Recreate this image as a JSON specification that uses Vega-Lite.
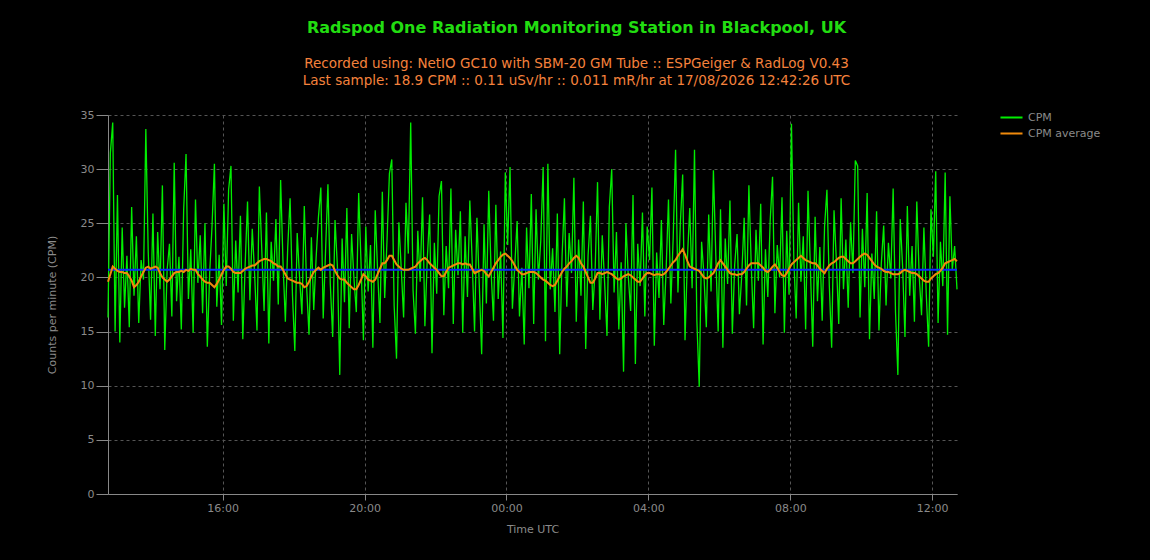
{
"$schema":"https://vega.github.io/schema/vega-lite/v6.json",
"width":849,"height":379,
"autosize":{"type":"none"},
"padding":{"left":108,"top":115,"right":193,"bottom":66},
"background":"#000000",
"config":{
 "view":{"stroke":null},
 "font":"DejaVu Sans",
 "axis":{"domainColor":"#888888","tickColor":"#888888","labelColor":"#8a8a8a","titleColor":"#8a8a8a","labelFont":"DejaVu Sans","titleFont":"DejaVu Sans","labelFontSize":11,"titleFontSize":11,"titleFontWeight":"normal","grid":true,"gridColor":"#555555","gridDash":[3,3],"gridWidth":1,"domainWidth":1,"tickWidth":1},
 "axisX":{"tickSize":6,"labelPadding":2,"titlePadding":10},
 "axisY":{"tickSize":12,"labelPadding":2,"titlePadding":23},
 "legend":{"orient":"none","legendX":898,"legendY":-3,"symbolType":"M-3,0H3","symbolSize":54,"symbolStrokeWidth":2,"labelColor":"#8a8a8a","labelFont":"DejaVu Sans","labelFontSize":11,"labelOffset":11,"rowPadding":4,"padding":0}
},
"title":{"text":"Radspod One Radiation Monitoring Station in Blackpool, UK","subtitle":["Recorded using: NetIO GC10 with SBM-20 GM Tube :: ESPGeiger & RadLog V0.43","Last sample: 18.9 CPM :: 0.11 uSv/hr :: 0.011 mR/hr at 17/08/2026 12:42:26 UTC"],"anchor":"middle","dx":44,"offset":22,"font":"DejaVu Sans","fontSize":16,"fontWeight":"bold","color":"#22dd11","subtitleFont":"DejaVu Sans","subtitleFontSize":13.5,"subtitleColor":"#f5823c","subtitleLineHeight":17,"subtitlePadding":21},
"data":{"format":{"parse":{"t":"utc:'%d %H:%M'"}},"values":[
{"t":"16 12:46","c":16.3,"a":19.6},{"t":"16 12:50","c":31.5,"a":20.3},{"t":"16 12:54","c":34.3,"a":21.0},{"t":"16 12:58","c":15.0,"a":20.8},{"t":"16 13:02","c":27.6,"a":20.6},{"t":"16 13:06","c":14.0,"a":20.5},{"t":"16 13:10","c":24.6,"a":20.5},{"t":"16 13:14","c":17.2,"a":20.4},{"t":"16 13:18","c":22.0,"a":20.4},{"t":"16 13:22","c":15.4,"a":20.1},{"t":"16 13:26","c":26.5,"a":19.7},{"t":"16 13:30","c":18.3,"a":19.1},{"t":"16 13:34","c":23.8,"a":19.3},{"t":"16 13:38","c":15.8,"a":19.6},{"t":"16 13:42","c":21.6,"a":20.1},
{"t":"16 13:46","c":19.8,"a":20.5},{"t":"16 13:50","c":33.7,"a":20.9},{"t":"16 13:54","c":22.4,"a":21.0},{"t":"16 13:58","c":16.1,"a":20.8},{"t":"16 14:02","c":25.9,"a":20.9},{"t":"16 14:06","c":14.6,"a":21.0},{"t":"16 14:10","c":24.2,"a":20.9},{"t":"16 14:14","c":18.9,"a":20.4},{"t":"16 14:18","c":28.5,"a":20.0},{"t":"16 14:22","c":13.3,"a":19.8},{"t":"16 14:26","c":20.7,"a":19.6},{"t":"16 14:30","c":23.1,"a":19.8},{"t":"16 14:34","c":16.4,"a":20.1},{"t":"16 14:38","c":30.6,"a":20.4},{"t":"16 14:42","c":17.8,"a":20.5},
{"t":"16 14:46","c":21.9,"a":20.5},{"t":"16 14:50","c":15.2,"a":20.6},{"t":"16 14:54","c":26.3,"a":20.5},{"t":"16 14:58","c":31.4,"a":20.7},{"t":"16 15:02","c":18.0,"a":20.6},{"t":"16 15:06","c":22.6,"a":20.8},{"t":"16 15:10","c":14.9,"a":20.7},{"t":"16 15:14","c":27.2,"a":20.7},{"t":"16 15:18","c":19.5,"a":20.3},{"t":"16 15:22","c":23.9,"a":20.1},{"t":"16 15:26","c":16.7,"a":19.8},{"t":"16 15:30","c":25.0,"a":19.6},{"t":"16 15:34","c":13.6,"a":19.5},{"t":"16 15:38","c":20.4,"a":19.5},{"t":"16 15:42","c":24.8,"a":19.3},
{"t":"16 15:46","c":30.5,"a":19.1},{"t":"16 15:50","c":17.3,"a":19.4},{"t":"16 15:54","c":22.1,"a":19.8},{"t":"16 15:58","c":15.6,"a":20.3},{"t":"16 16:02","c":26.8,"a":20.7},{"t":"16 16:06","c":19.2,"a":21.0},{"t":"16 16:10","c":28.1,"a":21.0},{"t":"16 16:14","c":30.3,"a":20.8},{"t":"16 16:18","c":16.0,"a":20.5},{"t":"16 16:22","c":23.4,"a":20.4},{"t":"16 16:26","c":18.6,"a":20.4},{"t":"16 16:30","c":25.7,"a":20.4},{"t":"16 16:34","c":14.3,"a":20.6},{"t":"16 16:38","c":21.2,"a":20.8},{"t":"16 16:42","c":27.0,"a":20.9},
{"t":"16 16:46","c":17.9,"a":21.0},{"t":"16 16:50","c":24.5,"a":21.1},{"t":"16 16:54","c":20.3,"a":21.1},{"t":"16 16:58","c":15.1,"a":21.3},{"t":"16 17:02","c":28.4,"a":21.5},{"t":"16 17:06","c":22.7,"a":21.6},{"t":"16 17:10","c":16.9,"a":21.7},{"t":"16 17:14","c":26.0,"a":21.7},{"t":"16 17:18","c":13.9,"a":21.6},{"t":"16 17:22","c":23.3,"a":21.5},{"t":"16 17:26","c":19.7,"a":21.3},{"t":"16 17:30","c":25.4,"a":21.2},{"t":"16 17:34","c":17.5,"a":21.0},{"t":"16 17:38","c":29.0,"a":21.0},{"t":"16 17:42","c":21.4,"a":20.7},
{"t":"16 17:46","c":15.9,"a":20.3},{"t":"16 17:50","c":22.8,"a":19.9},{"t":"16 17:54","c":27.3,"a":19.8},{"t":"16 17:58","c":18.4,"a":19.7},{"t":"16 18:02","c":13.2,"a":19.6},{"t":"16 18:06","c":24.1,"a":19.5},{"t":"16 18:10","c":20.0,"a":19.5},{"t":"16 18:14","c":16.6,"a":19.4},{"t":"16 18:18","c":26.6,"a":19.1},{"t":"16 18:22","c":19.1,"a":19.2},{"t":"16 18:26","c":14.7,"a":19.6},{"t":"16 18:30","c":23.7,"a":20.1},{"t":"16 18:34","c":17.0,"a":20.5},{"t":"16 18:38","c":21.8,"a":20.7},{"t":"16 18:42","c":25.6,"a":20.9},
{"t":"16 18:46","c":28.3,"a":20.7},{"t":"16 18:50","c":16.2,"a":20.9},{"t":"16 18:54","c":22.5,"a":21.0},{"t":"16 18:58","c":28.6,"a":21.1},{"t":"16 19:02","c":19.4,"a":21.2},{"t":"16 19:06","c":14.5,"a":21.1},{"t":"16 19:10","c":25.3,"a":20.6},{"t":"16 19:14","c":21.0,"a":20.2},{"t":"16 19:18","c":11.0,"a":19.9},{"t":"16 19:22","c":23.6,"a":19.8},{"t":"16 19:26","c":17.7,"a":19.8},{"t":"16 19:30","c":26.4,"a":19.5},{"t":"16 19:34","c":15.3,"a":19.3},{"t":"16 19:38","c":24.0,"a":19.1},{"t":"16 19:42","c":19.9,"a":18.9},
{"t":"16 19:46","c":16.8,"a":18.9},{"t":"16 19:50","c":27.8,"a":19.3},{"t":"16 19:54","c":21.3,"a":19.8},{"t":"16 19:58","c":14.2,"a":20.3},{"t":"16 20:02","c":24.7,"a":20.1},{"t":"16 20:06","c":18.7,"a":19.8},{"t":"16 20:10","c":23.0,"a":19.7},{"t":"16 20:14","c":13.5,"a":19.6},{"t":"16 20:18","c":26.2,"a":19.8},{"t":"16 20:22","c":20.6,"a":20.3},{"t":"16 20:26","c":15.8,"a":20.8},{"t":"16 20:30","c":27.9,"a":21.3},{"t":"16 20:34","c":18.1,"a":21.3},{"t":"16 20:38","c":23.5,"a":21.6},{"t":"16 20:42","c":29.6,"a":22.0},
{"t":"16 20:46","c":30.9,"a":22.0},{"t":"16 20:50","c":17.4,"a":21.6},{"t":"16 20:54","c":12.5,"a":21.2},{"t":"16 20:58","c":25.1,"a":21.0},{"t":"16 21:02","c":20.8,"a":20.8},{"t":"16 21:06","c":16.3,"a":20.7},{"t":"16 21:10","c":26.9,"a":20.7},{"t":"16 21:14","c":22.2,"a":20.7},{"t":"16 21:18","c":34.3,"a":20.8},{"t":"16 21:22","c":18.8,"a":20.9},{"t":"16 21:26","c":14.8,"a":21.0},{"t":"16 21:30","c":24.3,"a":21.3},{"t":"16 21:34","c":19.6,"a":21.5},{"t":"16 21:38","c":27.4,"a":21.7},{"t":"16 21:42","c":15.5,"a":21.8},
{"t":"16 21:46","c":21.7,"a":21.6},{"t":"16 21:50","c":25.8,"a":21.3},{"t":"16 21:54","c":13.0,"a":21.1},{"t":"16 21:58","c":23.2,"a":20.9},{"t":"16 22:02","c":18.5,"a":20.7},{"t":"16 22:06","c":27.5,"a":20.4},{"t":"16 22:10","c":28.9,"a":20.1},{"t":"16 22:14","c":16.5,"a":20.1},{"t":"16 22:18","c":22.9,"a":20.5},{"t":"16 22:22","c":19.0,"a":20.9},{"t":"16 22:26","c":28.2,"a":21.0},{"t":"16 22:30","c":15.7,"a":21.1},{"t":"16 22:34","c":24.4,"a":21.2},{"t":"16 22:38","c":20.2,"a":21.3},{"t":"16 22:42","c":26.1,"a":21.3},
{"t":"16 22:46","c":14.9,"a":21.2},{"t":"16 22:50","c":23.8,"a":21.3},{"t":"16 22:54","c":18.2,"a":21.2},{"t":"16 22:58","c":27.1,"a":21.2},{"t":"16 23:02","c":21.5,"a":20.8},{"t":"16 23:06","c":15.0,"a":20.4},{"t":"16 23:10","c":25.5,"a":20.5},{"t":"16 23:14","c":19.3,"a":20.6},{"t":"16 23:18","c":12.9,"a":20.7},{"t":"16 23:22","c":24.9,"a":20.6},{"t":"16 23:26","c":17.6,"a":20.3},{"t":"16 23:30","c":28.0,"a":20.1},{"t":"16 23:34","c":20.5,"a":20.5},{"t":"16 23:38","c":16.0,"a":20.9},{"t":"16 23:42","c":26.7,"a":21.3},
{"t":"16 23:46","c":18.0,"a":21.6},{"t":"16 23:50","c":22.4,"a":21.9},{"t":"16 23:54","c":14.4,"a":22.1},{"t":"16 23:58","c":29.7,"a":22.2},{"t":"17 00:02","c":23.0,"a":22.0},{"t":"17 00:06","c":30.2,"a":21.8},{"t":"17 00:10","c":17.1,"a":21.5},{"t":"17 00:14","c":21.1,"a":21.1},{"t":"17 00:18","c":25.2,"a":20.7},{"t":"17 00:22","c":16.4,"a":20.5},{"t":"17 00:26","c":20.9,"a":20.3},{"t":"17 00:30","c":13.8,"a":20.3},{"t":"17 00:34","c":24.6,"a":20.4},{"t":"17 00:38","c":19.0,"a":20.5},{"t":"17 00:42","c":27.7,"a":20.5},
{"t":"17 00:46","c":15.7,"a":20.5},{"t":"17 00:50","c":26.3,"a":20.4},{"t":"17 00:54","c":19.8,"a":20.2},{"t":"17 00:58","c":23.4,"a":20.0},{"t":"17 01:02","c":30.2,"a":19.8},{"t":"17 01:06","c":14.1,"a":19.7},{"t":"17 01:10","c":30.5,"a":19.5},{"t":"17 01:14","c":18.9,"a":19.3},{"t":"17 01:18","c":22.7,"a":19.2},{"t":"17 01:22","c":16.8,"a":19.3},{"t":"17 01:26","c":25.9,"a":19.7},{"t":"17 01:30","c":12.9,"a":20.1},{"t":"17 01:34","c":21.9,"a":20.5},{"t":"17 01:38","c":27.3,"a":20.8},{"t":"17 01:42","c":17.3,"a":21.0},
{"t":"17 01:46","c":24.1,"a":21.3},{"t":"17 01:50","c":20.4,"a":21.5},{"t":"17 01:54","c":29.2,"a":21.8},{"t":"17 01:58","c":15.9,"a":22.0},{"t":"17 02:02","c":23.5,"a":21.8},{"t":"17 02:06","c":18.3,"a":21.3},{"t":"17 02:10","c":27.0,"a":21.0},{"t":"17 02:14","c":13.4,"a":20.5},{"t":"17 02:18","c":22.0,"a":20.0},{"t":"17 02:22","c":25.7,"a":19.5},{"t":"17 02:26","c":17.0,"a":19.5},{"t":"17 02:30","c":20.8,"a":19.9},{"t":"17 02:34","c":28.8,"a":20.4},{"t":"17 02:38","c":16.1,"a":20.4},{"t":"17 02:42","c":23.9,"a":20.3},
{"t":"17 02:46","c":19.5,"a":20.4},{"t":"17 02:50","c":14.6,"a":20.5},{"t":"17 02:54","c":26.5,"a":20.4},{"t":"17 02:58","c":30.0,"a":20.3},{"t":"17 03:02","c":18.6,"a":20.1},{"t":"17 03:06","c":24.2,"a":19.9},{"t":"17 03:10","c":15.2,"a":19.8},{"t":"17 03:14","c":21.4,"a":19.9},{"t":"17 03:18","c":11.3,"a":20.1},{"t":"17 03:22","c":25.0,"a":20.2},{"t":"17 03:26","c":20.1,"a":20.3},{"t":"17 03:30","c":16.9,"a":20.2},{"t":"17 03:34","c":27.6,"a":20.0},{"t":"17 03:38","c":12.0,"a":19.8},{"t":"17 03:42","c":23.1,"a":19.6},
{"t":"17 03:46","c":19.2,"a":19.6},{"t":"17 03:50","c":26.0,"a":19.9},{"t":"17 03:54","c":16.4,"a":20.2},{"t":"17 03:58","c":24.7,"a":20.4},{"t":"17 04:02","c":21.6,"a":20.4},{"t":"17 04:06","c":28.3,"a":20.3},{"t":"17 04:10","c":13.7,"a":20.2},{"t":"17 04:14","c":22.3,"a":20.3},{"t":"17 04:18","c":18.1,"a":20.3},{"t":"17 04:22","c":25.3,"a":20.2},{"t":"17 04:26","c":15.6,"a":20.3},{"t":"17 04:30","c":20.7,"a":20.5},{"t":"17 04:34","c":27.2,"a":20.8},{"t":"17 04:38","c":17.6,"a":21.1},{"t":"17 04:42","c":23.7,"a":21.4},
{"t":"17 04:46","c":31.8,"a":21.6},{"t":"17 04:50","c":18.6,"a":22.0},{"t":"17 04:54","c":24.9,"a":22.3},{"t":"17 04:58","c":29.5,"a":22.6},{"t":"17 05:02","c":14.2,"a":22.1},{"t":"17 05:06","c":21.8,"a":21.5},{"t":"17 05:10","c":26.4,"a":21.0},{"t":"17 05:14","c":19.0,"a":20.9},{"t":"17 05:18","c":31.8,"a":20.8},{"t":"17 05:22","c":16.0,"a":20.7},{"t":"17 05:26","c":9.9,"a":20.6},{"t":"17 05:30","c":23.3,"a":20.3},{"t":"17 05:34","c":20.2,"a":20.0},{"t":"17 05:38","c":15.4,"a":19.9},{"t":"17 05:42","c":25.8,"a":20.0},
{"t":"17 05:46","c":18.7,"a":20.2},{"t":"17 05:50","c":29.9,"a":20.4},{"t":"17 05:54","c":22.1,"a":20.8},{"t":"17 05:58","c":15.0,"a":21.3},{"t":"17 06:02","c":26.3,"a":21.6},{"t":"17 06:06","c":13.5,"a":21.3},{"t":"17 06:10","c":23.6,"a":21.0},{"t":"17 06:14","c":19.4,"a":20.7},{"t":"17 06:18","c":27.1,"a":20.4},{"t":"17 06:22","c":14.8,"a":20.3},{"t":"17 06:26","c":21.2,"a":20.3},{"t":"17 06:30","c":24.0,"a":20.2},{"t":"17 06:34","c":16.6,"a":20.3},{"t":"17 06:38","c":20.3,"a":20.3},{"t":"17 06:42","c":25.5,"a":20.5},
{"t":"17 06:46","c":17.4,"a":20.8},{"t":"17 06:50","c":28.5,"a":21.1},{"t":"17 06:54","c":21.1,"a":21.3},{"t":"17 06:58","c":15.3,"a":21.3},{"t":"17 07:02","c":24.4,"a":21.3},{"t":"17 07:06","c":19.7,"a":21.3},{"t":"17 07:10","c":26.8,"a":21.1},{"t":"17 07:14","c":13.8,"a":20.9},{"t":"17 07:18","c":22.6,"a":20.6},{"t":"17 07:22","c":18.2,"a":20.5},{"t":"17 07:26","c":25.2,"a":20.7},{"t":"17 07:30","c":29.3,"a":21.0},{"t":"17 07:34","c":16.7,"a":21.2},{"t":"17 07:38","c":23.0,"a":20.9},{"t":"17 07:42","c":20.0,"a":20.5},
{"t":"17 07:46","c":27.4,"a":20.2},{"t":"17 07:50","c":14.9,"a":20.1},{"t":"17 07:54","c":24.3,"a":20.4},{"t":"17 07:58","c":18.4,"a":20.8},{"t":"17 08:02","c":34.2,"a":21.2},{"t":"17 08:06","c":21.7,"a":21.4},{"t":"17 08:10","c":16.2,"a":21.6},{"t":"17 08:14","c":26.9,"a":21.8},{"t":"17 08:18","c":19.6,"a":22.0},{"t":"17 08:22","c":23.8,"a":21.8},{"t":"17 08:26","c":15.2,"a":21.6},{"t":"17 08:30","c":28.0,"a":21.5},{"t":"17 08:34","c":20.9,"a":21.4},{"t":"17 08:38","c":13.6,"a":21.3},{"t":"17 08:42","c":25.6,"a":21.3},
{"t":"17 08:46","c":17.8,"a":21.1},{"t":"17 08:50","c":22.8,"a":20.8},{"t":"17 08:54","c":16.0,"a":20.6},{"t":"17 08:58","c":24.7,"a":20.4},{"t":"17 09:02","c":28.1,"a":20.8},{"t":"17 09:06","c":19.3,"a":21.1},{"t":"17 09:10","c":13.5,"a":21.3},{"t":"17 09:14","c":26.2,"a":21.4},{"t":"17 09:18","c":21.5,"a":21.6},{"t":"17 09:22","c":15.7,"a":21.8},{"t":"17 09:26","c":27.3,"a":21.9},{"t":"17 09:30","c":18.9,"a":21.9},{"t":"17 09:34","c":23.5,"a":21.7},{"t":"17 09:38","c":17.2,"a":21.5},{"t":"17 09:42","c":25.1,"a":21.3},
{"t":"17 09:46","c":20.4,"a":21.3},{"t":"17 09:50","c":30.8,"a":21.5},{"t":"17 09:54","c":30.3,"a":21.7},{"t":"17 09:58","c":16.3,"a":21.9},{"t":"17 10:02","c":24.5,"a":22.1},{"t":"17 10:06","c":19.1,"a":22.2},{"t":"17 10:10","c":27.8,"a":22.1},{"t":"17 10:14","c":14.3,"a":21.8},{"t":"17 10:18","c":22.2,"a":21.5},{"t":"17 10:22","c":18.0,"a":21.2},{"t":"17 10:26","c":26.1,"a":21.0},{"t":"17 10:30","c":15.1,"a":20.9},{"t":"17 10:34","c":21.3,"a":20.8},{"t":"17 10:38","c":24.8,"a":20.6},{"t":"17 10:42","c":17.4,"a":20.5},
{"t":"17 10:46","c":23.2,"a":20.5},{"t":"17 10:50","c":19.9,"a":20.4},{"t":"17 10:54","c":28.2,"a":20.3},{"t":"17 10:58","c":16.8,"a":20.3},{"t":"17 11:02","c":11.0,"a":20.3},{"t":"17 11:06","c":25.4,"a":20.4},{"t":"17 11:10","c":21.0,"a":20.6},{"t":"17 11:14","c":14.5,"a":20.7},{"t":"17 11:18","c":26.6,"a":20.6},{"t":"17 11:22","c":18.3,"a":20.5},{"t":"17 11:26","c":22.9,"a":20.4},{"t":"17 11:30","c":15.9,"a":20.4},{"t":"17 11:34","c":27.0,"a":20.3},{"t":"17 11:38","c":20.2,"a":20.1},{"t":"17 11:42","c":16.5,"a":19.9},
{"t":"17 11:46","c":24.6,"a":19.7},{"t":"17 11:50","c":18.5,"a":19.6},{"t":"17 11:54","c":13.6,"a":19.6},{"t":"17 11:58","c":26.3,"a":19.9},{"t":"17 12:02","c":21.9,"a":20.1},{"t":"17 12:06","c":29.8,"a":20.3},{"t":"17 12:10","c":15.8,"a":20.4},{"t":"17 12:14","c":23.3,"a":20.6},{"t":"17 12:18","c":19.2,"a":20.9},{"t":"17 12:22","c":29.7,"a":21.3},{"t":"17 12:26","c":14.7,"a":21.4},{"t":"17 12:30","c":27.5,"a":21.5},{"t":"17 12:34","c":20.7,"a":21.6},{"t":"17 12:38","c":22.9,"a":21.7},{"t":"17 12:42","c":18.9,"a":21.5}
]},
"layer":[
 {"mark":{"type":"line","strokeWidth":1.3,"interpolate":"linear"},
  "encoding":{
   "x":{"field":"t","type":"temporal","title":"Time UTC","scale":{"type":"utc","nice":false},"axis":{"format":"%H:%M","formatType":"utc","labelExpr":"utcFormat(datum.value, '%H:%M')","values":[{"year":1900,"month":1,"date":16,"hours":16,"utc":true},{"year":1900,"month":1,"date":16,"hours":20,"utc":true},{"year":1900,"month":1,"date":17,"hours":0,"utc":true},{"year":1900,"month":1,"date":17,"hours":4,"utc":true},{"year":1900,"month":1,"date":17,"hours":8,"utc":true},{"year":1900,"month":1,"date":17,"hours":12,"utc":true}]}},
   "y":{"field":"c","type":"quantitative","title":"Counts per minute (CPM)","scale":{"domain":[0,35],"nice":false},"axis":{"values":[0,5,10,15,20,25,30,35]}},
   "color":{"datum":"CPM","type":"nominal","scale":{"domain":["CPM","CPM average"],"range":["#00ee00","#f08a0c"]},"legend":{"title":null}}
  }},
 {"data":{"values":[{"m":20.7}]},
  "mark":{"type":"rule","color":"#0a2cff","strokeWidth":2},
  "encoding":{"y":{"field":"m","type":"quantitative","title":"Counts per minute (CPM)"}}},
 {"mark":{"type":"line","strokeWidth":2,"interpolate":"linear"},
  "encoding":{
   "x":{"field":"t","type":"temporal","title":"Time UTC","axis":{"format":"%H:%M","formatType":"utc","labelExpr":"utcFormat(datum.value, '%H:%M')"}},
   "y":{"field":"a","type":"quantitative","title":"Counts per minute (CPM)"},
   "color":{"datum":"CPM average","type":"nominal"}
  }}
]
}
